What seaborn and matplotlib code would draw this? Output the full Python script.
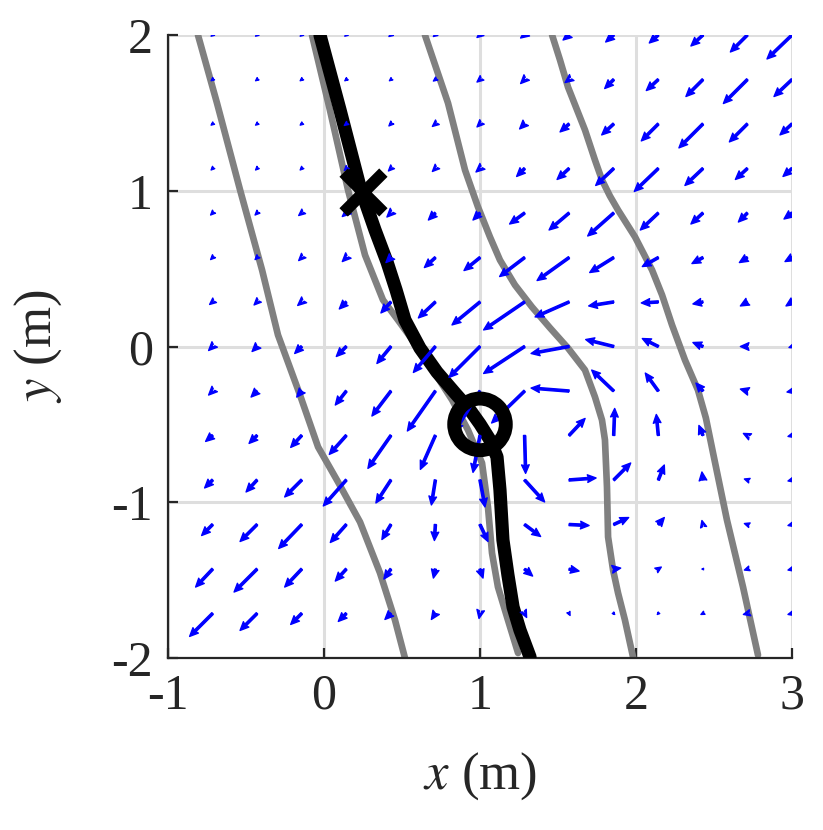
import numpy as np
import pandas as pd
import matplotlib
matplotlib.use("Agg")
import matplotlib.pyplot as plt
import seaborn as sns

# ---------------- data ----------------
x_ticks = [-1, 0, 1, 2, 3]
y_ticks = [-2, -1, 0, 1, 2]

# quiver grid (tails)
grid_x = [-0.714, -0.429, -0.143, 0.143, 0.429, 0.714, 1.0,
          1.286, 1.571, 1.857, 2.143, 2.429, 2.714, 3.0]
grid_y = [2.0, 1.714, 1.429, 1.143, 0.857, 0.571, 0.286,
          0.0, -0.286, -0.571, -0.857, -1.143, -1.429, -1.714]

# field components (arbitrary units), rows follow grid_y, columns grid_x
U = [
    [-1.5, -1.5, -1.5, -1.5, -2, -2, -3, -4, -6, -8, -9, -12, -17, -25],
    [-1.5, -1.5, -1.5, -1.5, -1.5, -2, -3, -4, -4, -9, -12, -17, -24, -18],
    [-1.5, -1.5, -1.5, -2, -2, -3, -3, -5, -9, -12, -17, -24, -18, -12],
    [-1.5, -1.5, -1.5, -2, -2.5, -3, -4, -8, -12, -18, -24, -18, -12, -9],
    [-2, -2, -3, -4, -4, -7, -7, -15, -20, -26, -18, -12, -9, -8],
    [-2, -2, -3, -4, -5, -11, -16, -25, -32, -24, -16, -11, -8, -7],
    [-3, -3, -4, -7, -10, -17, -28, -41, -34, -25, -17, -10, -7, -6],
    [-4, -5, -7, -10, -14, -22, -31, -41, -38, -28, -16, -10, -7, -3],
    [-4, -6, -5, -11, -19, -28, -25, -33, -38, -22, -13, -7, -7, -5],
    [-7, -8, -11, -17, -23, -15, -7, 1, 16, 1, -2, -4, -4, -4],
    [-8, -11, -17, -23, -15, -4, 5, 20, 27, 17, 6, -1, -3, -4],
    [-11, -17, -23, -16, -9, -1, 8, 16, 20, 15, 6, -1, -3, -4],
    [-17, -23, -17, -11, -7, -2, 3, 8, 10, 7, 3, -1, -3, -4],
    [-23, -17, -11, -8, -6, -4, -1, 2, 1, 1, -1, -2, -4, -4],
]
V = [
    [-1.2, -1.2, -1.2, -1.2, -1.5, -1.5, -2.5, -3, -5, -7, -8, -11, -17, -24],
    [-1.2, -1.2, -1.2, -1.2, -1.2, -1.5, -2.5, -4, -3, -9, -11, -17, -24, -17],
    [-1.2, -1.2, -1.2, -1.5, -2, -2.5, -3, -5, -8, -11, -17, -24, -18, -11],
    [-1.5, -1.5, -1.5, -2, -2.5, -3, -3.5, -8, -11, -17, -23, -17, -11, -8],
    [-2, -2, -2.5, -3.5, -4, -7, -7, -11, -17, -23, -17, -11, -9, -6],
    [-2, -2, -3, -4, -5, -10, -13, -19, -23, -15, -9, -6, -5, -4],
    [-2.5, -3, -3.5, -7, -11, -16, -23, -28, -15, -4, -1, -2, -4, -4],
    [-4, -5, -7, -10, -17, -26, -31, -27, -7, 7, 8, 4, 0, -1],
    [-4, -6, -6, -14, -25, -40, -40, -32, 3, 21, 18, 8, 2, -1],
    [-6, -8, -12, -19, -33, -34, -37, -38, 17, 27, 21, 10, 2, -1],
    [-8, -12, -17, -26, -23, -25, -27, -22, 2, 17, 15, 8, 1, -1],
    [-11, -17, -24, -18, -15, -16, -17, -12, -1, 7, 7, 4, 1, -1],
    [-18, -23, -18, -12, -10, -9, -9, -7, -2, 1, 2, 0, -1, -1],
    [-23, -17, -11, -8, -6, -6, -5, -4, -2, -1, -1, -1, -1, -1],
]
field_scale = 156.0  # field units per metre of drawn arrow

# grey level curves
g1_x = [-0.808, -0.686, -0.538, -0.397, -0.295, -0.154, -0.038, 0.090, 0.231, 0.359, 0.455, 0.519]
g1_y = [2.0, 1.563, 1.005, 0.491, 0.074, -0.311, -0.645, -0.870, -1.127, -1.454, -1.756, -2.0]
g2_x = [-0.077, 0.038, 0.154, 0.263, 0.378, 0.474, 0.628, 0.821, 0.923, 1.013, 1.051, 1.077, 1.115, 1.179, 1.244]
g2_y = [2.0, 1.518, 1.005, 0.587, 0.299, 0.170, -0.042, -0.343, -0.536, -0.748, -1.030, -1.326, -1.544, -1.756, -1.968]
g3_x = [0.647, 0.795, 0.904, 0.987, 1.064, 1.128, 1.224, 1.333, 1.449, 1.564, 1.673, 1.737, 1.782,
        1.801, 1.814, 1.821, 1.853, 1.885, 1.929, 1.981]
g3_y = [2.0, 1.563, 1.133, 0.896, 0.703, 0.555, 0.395, 0.254, 0.119, -0.010, -0.151, -0.324, -0.472,
        -0.600, -0.902, -1.223, -1.435, -1.583, -1.756, -1.994]
g4_x = [1.462, 1.513, 1.564, 1.673, 1.737, 1.782, 1.833, 1.885, 1.994, 2.103, 2.167, 2.231, 2.314,
        2.397, 2.448, 2.494, 2.583, 2.686, 2.782]
g4_y = [2.0, 1.839, 1.666, 1.390, 1.197, 1.069, 0.966, 0.876, 0.703, 0.491, 0.331, 0.138, -0.087,
        -0.279, -0.459, -0.684, -1.114, -1.544, -1.981]

# black trajectory
traj_x = [-0.026, 0.103, 0.231, 0.327, 0.404, 0.462, 0.519, 0.615, 0.724, 0.840, 0.936, 1.0,
          1.064, 1.109, 1.128, 1.147, 1.179, 1.212, 1.256, 1.321]
traj_y = [2.0, 1.518, 1.024, 0.748, 0.543, 0.363, 0.170, -0.010, -0.164, -0.299, -0.408, -0.498,
          -0.600, -0.709, -0.921, -1.242, -1.467, -1.673, -1.820, -1.994]

start_pt = (0.25, 0.99)
goal_pt = (1.0, -0.5)

# ---------------- style ----------------
sns.set_theme(style="white")
plt.rcParams["font.family"] = ["Liberation Serif", "DejaVu Serif"]
plt.rcParams["mathtext.fontset"] = "stix"
plt.rcParams["axes.unicode_minus"] = False

fig = plt.figure(figsize=(8.23, 8.30), dpi=100)
ax = fig.add_axes([168 / 823, 1 - 658 / 830, 624 / 823, 623 / 830])

gray_curves = [(g1_x, g1_y), (g2_x, g2_y), (g3_x, g3_y), (g4_x, g4_y)]
for cx, cy in gray_curves:
    df = pd.DataFrame({"x": cx, "y": cy})
    sns.lineplot(data=df, x="x", y="y", sort=False, estimator=None,
                 color="#808080", lw=4.8, ax=ax, zorder=2,
                 solid_joinstyle="round")

df_t = pd.DataFrame({"x": traj_x, "y": traj_y})
sns.lineplot(data=df_t, x="x", y="y", sort=False, estimator=None,
             color="black", lw=9.5, ax=ax, zorder=3,
             solid_capstyle="round", solid_joinstyle="round")

GX, GY = np.meshgrid(np.array(grid_x), np.array(grid_y))
ax.quiver(GX, GY, np.array(U), np.array(V), color="#0000ff",
          edgecolor="#0000ff", linewidth=1.0, joinstyle="round",
          angles="xy", scale_units="xy", scale=field_scale,
          width=0.0036, headwidth=3.4, headlength=3.8, headaxislength=3.4,
          minshaft=0.6, minlength=0.3, zorder=4)

sns.scatterplot(x=[start_pt[0]], y=[start_pt[1]], marker="x", s=820,
                color="black", linewidth=8.5, ax=ax, zorder=5)
ax.scatter([goal_pt[0]], [goal_pt[1]], marker="o", s=1380,
           facecolors="none", edgecolors="black", linewidths=10, zorder=6)

ax.set_xlim(-1, 3)
ax.set_ylim(-2, 2)
ax.set_xticks(x_ticks)
ax.set_yticks(y_ticks)
ax.set_xticklabels([str(v) for v in x_ticks])
ax.set_yticklabels([str(v) for v in y_ticks])
ax.grid(True, color="#dedede", lw=2.2, zorder=0)
ax.set_axisbelow(True)
for side in ["top", "right"]:
    ax.spines[side].set_visible(False)
for side in ["left", "bottom"]:
    ax.spines[side].set_color("#262626")
    ax.spines[side].set_linewidth(1.6)
ax.tick_params(direction="in", length=7, width=1.6, color="#262626",
               labelsize=36, labelcolor="#262626", pad=11,
               left=True, bottom=True, top=False, right=False)
ax.set_xlabel(r"$x$ (m)", fontsize=38, color="#262626", labelpad=22)
ax.set_ylabel(r"$y$ (m)", fontsize=38, color="#262626", labelpad=34)

fig.savefig("out.png", dpi=100)
